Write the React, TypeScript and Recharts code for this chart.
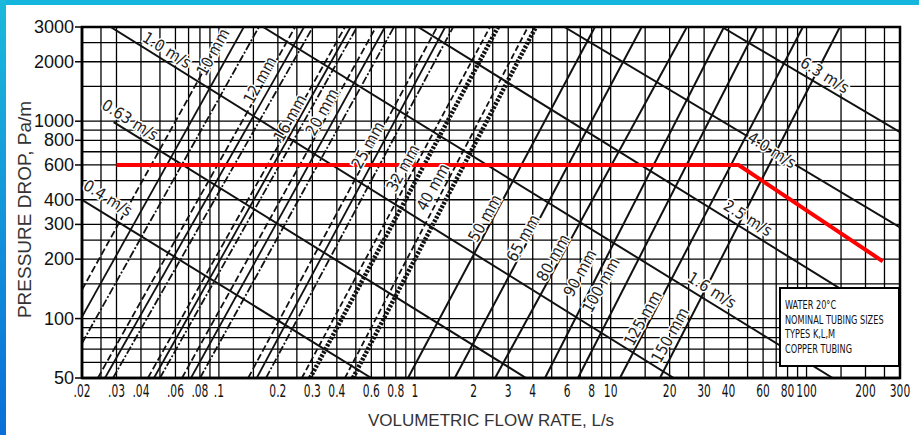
import React from 'react'
import { ComposedChart, Line, XAxis, YAxis, CartesianGrid, ReferenceDot, ReferenceArea } from 'recharts'

// axis ticks
const xTickValues = [0.02, 0.03, 0.04, 0.06, 0.08, 0.1, 0.2, 0.3, 0.4, 0.6, 0.8, 1, 2, 3, 4, 6, 8, 10, 20, 30, 40, 60, 80, 100, 200, 300]
const xTickText = ['.02', '.03', '.04', '.06', '.08', '.1', '0.2', '0.3', '0.4', '0.6', '0.8', '1', '2', '3', '4', '6', '8', '10', '20', '30', '40', '60', '80', '100', '200', '300']
const xGridValues = [0.02, 0.025, 0.03, 0.04, 0.05, 0.06, 0.07, 0.08, 0.09, 0.1, 0.15, 0.2, 0.25, 0.3, 0.4, 0.5, 0.6, 0.7, 0.8, 0.9, 1, 1.5, 2, 2.5, 3, 4, 5, 6, 7, 8, 9, 10, 15, 20, 25, 30, 40, 50, 60, 70, 80, 90, 100, 150, 200, 250, 300]
const yTickValues = [3000, 2000, 1000, 800, 600, 400, 300, 200, 100, 50]
const yTickText = ['3000', '2000', '1000', '800', '600', '400', '300', '200', '100', '50']
const yGridValues = [50, 60, 70, 80, 90, 100, 150, 200, 250, 300, 400, 500, 600, 700, 800, 900, 1000, 1500, 2000, 2500, 3000]

// 10 mm tube: pressure drop where it enters at .02 L/s, flow at 3000 Pa/m (K, L, M lines)
const tube10P = [140, 102, 75]
const tube10Q = [0.111, 0.134, 0.16]
// 12-25 mm tubes: flow at 50 Pa/m and at 3000 Pa/m (K, L, M lines)
const smallQ50 = [[0.0241, 0.0262, 0.0288], [0.0434, 0.0466, 0.05], [0.0648, 0.072, 0.0801], [0.141, 0.156, 0.174]]
const smallQ3000 = [[0.245, 0.272, 0.302], [0.44, 0.47, 0.507], [0.634, 0.704, 0.783], [1.3, 1.43, 1.57]]
// 32, 40 mm tubes (dashed + heavy dotted)
const midQ50 = [[0.265, 0.292], [0.44, 0.483]]
const midQ3000 = [[2.42, 2.66], [3.78, 4.15]]
// 50-150 mm tubes
const bigQ50 = [0.923, 1.6, 2.57, 4.62, 6.81, 11.15, 17.85]
const bigQ3000 = [8.31, 14.4, 24.5, 37.9, 55.8, 95.8, 148]

const pipeNames = ['10 mm', '12 mm', '16 mm', '20 mm', '25 mm', '32 mm', '40 mm', '50 mm', '65 mm', '80 mm', '90 mm', '100 mm', '125 mm', '150 mm']
const pipeLabelQ = [0.0933, 0.162, 0.2306, 0.336, 0.577, 0.87, 1.238, 2.28, 3.57, 5.08, 6.97, 8.92, 14.6, 20.1]
const pipeLabelP = [2240, 1617, 1038, 1113, 757, 579, 464, 323, 256, 203, 170, 148, 100.7, 82.6]

// velocity lines
const velNames = ['0.4 m/s', '0.63 m/s', '1.0 m/s', '1.6 m/s', '2.5 m/s', '4.0 m/s', '6.3 m/s']
const velStartQ = [0.02, 0.029, 0.028, 0.168, 1.04, 5.8, 37]
const velStartP = [400, 990, 3000, 3000, 3000, 3000, 3000]
const velEndQ = [0.6, 3.7, 21, 136, 300, 300, 300]
const velEndP = [50, 50, 50, 50, 92, 290, 880]
const velLabelQ = [0.0271, 0.0352, 0.0543, 32.9, 50.2, 66.6, 124]
const velLabelP = [408, 1014, 2294, 139.5, 323, 714, 1714]

// design line (red)
const redQ = [0.03, 45, 245]
const redP = [600, 600, 195]

const legendLines = ['WATER 20°C', 'NOMINAL TUBING SIZES', 'TYPES K,L,M', 'COPPER TUBING']

const NARROW = '"Liberation Sans Narrow", "DejaVu Sans Condensed", "Liberation Sans", sans-serif'
const SANS = '"Liberation Sans", Arial, sans-serif'
const INK = '#111'

const kinds = [{ strokeDasharray: '7 3' }, {}, { strokeDasharray: '8 2 2 2' }]

function idxOf(list: number[], v: number) {
  return list.findIndex((t) => Math.abs(t - v) / t < 1e-6)
}

function XTick(props: any) {
  const { x, y, payload } = props
  const i = idxOf(xTickValues, payload.value)
  if (i < 0) return null
  return (
    <text transform={`translate(${x} ${y + 19}) scale(0.7 1)`} textAnchor="middle" fontFamily={NARROW} fontSize={17} fill={INK}>
      {xTickText[i]}
    </text>
  )
}

function YTick(props: any) {
  const { x, y, payload } = props
  const i = idxOf(yTickValues, payload.value)
  if (i < 0) return null
  return (
    <g>
      <line x1={x - 7} x2={x} y1={y} y2={y} stroke="#000" strokeWidth={1.5} />
      <text x={x - 8} y={y + 6} textAnchor="end" fontFamily={SANS} fontSize={18} fill={INK}>
        {yTickText[i]}
      </text>
    </g>
  )
}

const rotLabel = (text: string, angle: number, size: number) => (p: any) => (
  <text
    x={p.cx}
    y={p.cy}
    transform={`rotate(${angle} ${p.cx} ${p.cy})`}
    textAnchor="middle"
    dominantBaseline="central"
    fontFamily={NARROW}
    fontSize={size}
    fill="#222"
    stroke="#fff"
    strokeWidth={3}
    paintOrder="stroke"
  >
    {text}
  </text>
)

const seg = (pts: [number, number][]) => pts.map(([x, y]) => ({ x, y }))

export default function App() {
  const lines: React.ReactNode[] = []

  tube10Q.forEach((q, j) => {
    lines.push(
      <Line key={`t10-${j}`} data={seg([[0.02, tube10P[j]], [q, 3000]])} dataKey="y" stroke={INK} strokeWidth={1.8}
        {...kinds[j]} dot={false} activeDot={false} isAnimationActive={false} />
    )
  })
  smallQ50.forEach((row, i) => {
    row.forEach((q, j) => {
      lines.push(
        <Line key={`s-${i}-${j}`} data={seg([[q, 50], [smallQ3000[i][j], 3000]])} dataKey="y" stroke={INK} strokeWidth={1.8}
          {...kinds[j]} dot={false} activeDot={false} isAnimationActive={false} />
      )
    })
  })
  midQ50.forEach((row, i) => {
    row.forEach((q, j) => {
      lines.push(
        <Line key={`m-${i}-${j}`} data={seg([[q, 50], [midQ3000[i][j], 3000]])} dataKey="y" stroke={INK}
          strokeWidth={j === 0 ? 1.8 : 4.5} strokeDasharray={j === 0 ? '6 3' : '2.5 1.5'}
          dot={false} activeDot={false} isAnimationActive={false} />
      )
    })
  })
  bigQ50.forEach((q, i) => {
    lines.push(
      <Line key={`b-${i}`} data={seg([[q, 50], [bigQ3000[i], 3000]])} dataKey="y" stroke={INK} strokeWidth={2}
        dot={false} activeDot={false} isAnimationActive={false} />
    )
  })
  velNames.forEach((_, i) => {
    lines.push(
      <Line key={`v-${i}`} data={seg([[velStartQ[i], velStartP[i]], [velEndQ[i], velEndP[i]]])} dataKey="y" stroke={INK}
        strokeWidth={2} dot={false} activeDot={false} isAnimationActive={false} />
    )
  })

  return (
    <div style={{ position: 'absolute', left: 0, top: 0, width: 919, height: 435, background: '#fff', overflow: 'hidden' }}>
      <ComposedChart width={919} height={435} margin={{ top: 27, right: 19, bottom: 7, left: 12 }}>
        <CartesianGrid stroke="#000" strokeWidth={1.3} />
        <XAxis
          type="number"
          dataKey="x"
          scale="log"
          domain={[0.02, 300]}
          allowDataOverflow
          ticks={xGridValues}
          interval={0}
          tick={XTick}
          tickLine={false}
          tickSize={0}
          tickMargin={0}
          axisLine={{ stroke: '#000', strokeWidth: 2.5 }}
          height={50}
          label={{ value: 'VOLUMETRIC FLOW RATE, L/s', position: 'insideBottom', offset: 2, fontSize: 17, fill: '#333', fontFamily: SANS }}
        />
        <YAxis
          type="number"
          scale="log"
          domain={[50, 3000]}
          allowDataOverflow
          ticks={yGridValues}
          interval={0}
          tick={YTick}
          tickLine={false}
          tickSize={0}
          tickMargin={0}
          axisLine={{ stroke: '#000', strokeWidth: 2.5 }}
          width={70}
          label={{
            content: (p: any) => {
              const vb = p.viewBox || { x: 12, y: 27, width: 70, height: 351 }
              const cx = vb.x + 19
              const cy = vb.y + vb.height / 2 + 7
              return (
                <text x={cx} y={cy} transform={`rotate(-90 ${cx} ${cy})`} textAnchor="middle" fontFamily={SANS} fontSize={19} fill="#333">
                  PRESSURE DROP, Pa/m
                </text>
              )
            },
          }}
        />
        {lines}
        <Line data={seg(redQ.map((q, i) => [q, redP[i]] as [number, number]))} dataKey="y" stroke="#f00" strokeWidth={4}
          dot={false} activeDot={false} isAnimationActive={false} />
        <ReferenceArea x1={0.02} x2={300} y1={50} y2={3000} fill="none" fillOpacity={0} stroke="#000" strokeWidth={2.5} />
        {pipeNames.map((n, i) => (
          <ReferenceDot key={n} x={pipeLabelQ[i]} y={pipeLabelP[i]} r={0} shape={rotLabel(n, -61, 16)} />
        ))}
        {velNames.map((n, i) => (
          <ReferenceDot key={n} x={velLabelQ[i]} y={velLabelP[i]} r={0} shape={rotLabel(n, 32, 16)} />
        ))}
      </ComposedChart>

      <div style={{ position: 'absolute', left: 779, top: 287, width: 121, height: 80, background: '#fff', border: '2px solid #000', boxSizing: 'border-box' }}>
        <svg width={117} height={76} style={{ display: 'block' }}>
          {legendLines.map((t, i) => (
            <text key={t} transform={`translate(4 ${[20, 35, 49, 64][i]}) scale(0.7 1)`} fontFamily={NARROW} fontSize={13} fill="#111">
              {t}
            </text>
          ))}
        </svg>
      </div>

      <div style={{ position: 'absolute', left: 0, top: 0, width: 919, height: 5, background: '#14b6dd' }} />
      <div style={{ position: 'absolute', left: 0, top: 0, width: 6, height: 435, background: 'linear-gradient(#1cb9dc, #0a6fd8)' }} />
    </div>
  )
}
